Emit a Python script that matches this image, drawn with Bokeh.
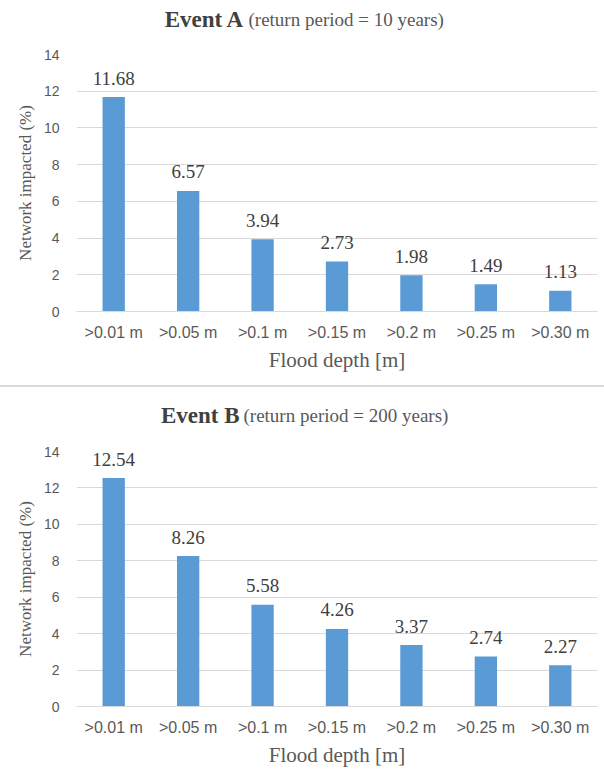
from bokeh.plotting import figure
from bokeh.models import FactorRange, Range1d, FixedTicker, ColumnDataSource, Spacer
from bokeh.layouts import column
from bokeh.core.properties import value
from bokeh.embed import file_html
from bokeh.resources import INLINE

categories = [">0.01 m", ">0.05 m", ">0.1 m", ">0.15 m", ">0.2 m", ">0.25 m", ">0.30 m"]
event_a = [11.68, 6.57, 3.94, 2.73, 1.98, 1.49, 1.13]
event_b = [12.54, 8.26, 5.58, 4.26, 3.37, 2.74, 2.27]
y_ticks = [0, 2, 4, 6, 8, 10, 12, 14]
titles = ["Event A", "Event B"]
subtitles = ["(return period = 10 years)", "(return period = 200 years)"]
x_label = "Flood depth [m]"
y_label = "Network impacted (%)"

SERIF = "Liberation Serif"
SANS = "Liberation Sans"
BAR = "#5B9BD5"
GRID = "#d9d9d9"
W = 604
LEFT = 76
RIGHT = 7


def make_title(title, subtitle, height, baseline, split):
    t = figure(width=W, height=height, x_range=Range1d(LEFT, W - RIGHT),
               y_range=Range1d(0, height),
               toolbar_location=None, output_backend="svg",
               x_axis_type=None, y_axis_type=None,
               min_border_left=LEFT, min_border_right=RIGHT,
               min_border_top=0, min_border_bottom=0)
    t.outline_line_color = None
    t.grid.grid_line_color = None
    y = height - baseline
    t.text(x=[split], y=[y], text=[title], text_align="right", text_baseline="alphabetic",
           text_font=value(SERIF), text_font_size="23px", text_font_style="bold",
           text_color="#404040")
    t.text(x=[split + 4], y=[y], text=[subtitle], text_align="left",
           text_baseline="alphabetic", text_font=value(SERIF), text_font_size="19px",
           text_color="#595959")
    return t


def make_chart(vals, height, b_top, b_bottom):
    p = figure(x_range=FactorRange(*categories, range_padding=0),
               y_range=Range1d(0, 14), width=W, height=height,
               toolbar_location=None, output_backend="svg",
               min_border_left=LEFT, min_border_right=RIGHT,
               min_border_top=b_top, min_border_bottom=b_bottom)
    p.outline_line_color = None
    src = ColumnDataSource(dict(cat=categories, val=vals,
                                lbl=["%.2f" % v for v in vals]))
    p.vbar(x="cat", top="val", width=0.3, source=src, fill_color=BAR, line_color=None)
    p.text(x="cat", y="val", text="lbl", source=src, text_align="center",
           text_baseline="alphabetic", y_offset=-19,
           text_font=value(SERIF), text_font_size="19px", text_color="#404040")

    p.xgrid.grid_line_color = None
    p.ygrid.grid_line_color = GRID
    p.ygrid.ticker = FixedTicker(ticks=y_ticks)

    ya = p.yaxis[0]
    ya.ticker = FixedTicker(ticks=y_ticks)
    ya.axis_line_color = None
    ya.major_tick_line_color = None
    ya.minor_tick_line_color = None
    ya.major_tick_out = 0
    ya.major_label_standoff = 17
    ya.major_label_text_font = SANS
    ya.major_label_text_font_size = "14px"
    ya.major_label_text_color = "#595959"
    ya.axis_label = y_label
    ya.axis_label_text_font = SERIF
    ya.axis_label_text_font_size = "17px"
    ya.axis_label_text_font_style = "normal"
    ya.axis_label_text_color = "#595959"
    ya.axis_label_standoff = 6

    xa = p.xaxis[0]
    xa.axis_line_color = GRID
    xa.major_tick_line_color = None
    xa.minor_tick_line_color = None
    xa.major_tick_out = 0
    xa.major_label_standoff = 12
    xa.major_label_text_font = SANS
    xa.major_label_text_font_size = "16px"
    xa.major_label_text_color = "#595959"
    xa.axis_label = x_label
    xa.axis_label_text_font = SERIF
    xa.axis_label_text_font_size = "21px"
    xa.axis_label_text_font_style = "normal"
    xa.axis_label_text_color = "#595959"
    xa.axis_label_standoff = 4
    return p


t1 = make_title(titles[0], subtitles[0], 40, 19, 244)
p1 = make_chart(event_a, 345, 14, 74)
sep = Spacer(width=W, height=2, styles={"background-color": "#d9d9d9"})
t2 = make_title(titles[1], subtitles[1], 50, 28, 239)
p2 = make_chart(event_b, 332, 14, 63)

layout = column(t1, p1, sep, t2, p2, spacing=0)
open("out.html", "w").write(file_html(layout, INLINE))
